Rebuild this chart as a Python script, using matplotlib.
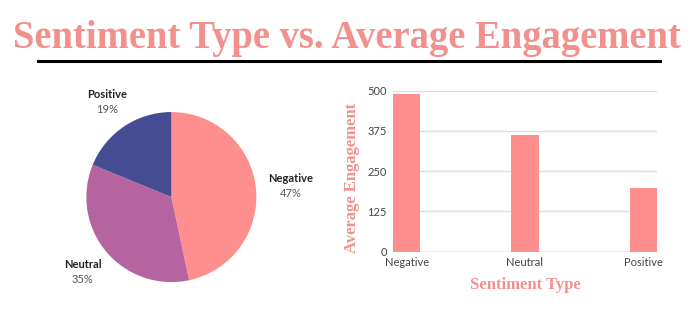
import numpy as np
import matplotlib
matplotlib.use("Agg")
import matplotlib.pyplot as plt

sentiments = ["Negative", "Neutral", "Positive"]
avg_engagement = [489, 362, 197]

pink = "#FF8E8E"
title_pink = "#F2908E"
pie_colors = ["#FF8E8E", "#B5649F", "#464C92"]

plt.rcParams["font.family"] = ["Lato", "DejaVu Sans"]

fig = plt.figure(figsize=(7, 3.22), dpi=100)

# title + rule underneath
fig.text(0.496, 0.88, "Sentiment Type vs. Average Engagement", ha="center", va="center",
         fontsize=27.8, fontweight="bold", family="Liberation Serif", color=title_pink)
fig.add_artist(plt.Line2D([38 / 700, 660 / 700], [1 - 61 / 322, 1 - 61 / 322],
                          color="black", linewidth=2.2))

# pie
ax_pie = fig.add_axes([0.093, 0.058, 0.3036, 0.66])
shares = np.array(avg_engagement) / sum(avg_engagement)
wedges, _ = ax_pie.pie(shares, colors=pie_colors, startangle=90, counterclock=False,
                       wedgeprops=dict(linewidth=0))
for w, name, s in zip(wedges, sentiments, shares):
    ang = np.deg2rad((w.theta1 + w.theta2) / 2)
    x, y = 1.36 * np.cos(ang), 1.36 * np.sin(ang)
    if name == "Negative":
        x += 0.05
    ax_pie.text(x, y + 0.08, name, ha="center", va="center", fontsize=8,
                fontweight="bold", color="#222222")
    ax_pie.text(x, y - 0.1, f"{round(s * 100):.0f}%", ha="center", va="center",
                fontsize=8, color="#555555")

# bars
ax = fig.add_axes([0.5614, 0.2183, 0.377, 0.5])
x = np.arange(len(sentiments))
ax.bar(x, avg_engagement, width=0.23, color=pink, zorder=3)
ax.set_xlim(-0.115, 2.115)
ax.set_ylim(0, 500)
ax.set_yticks([0, 125, 250, 375, 500])
ax.set_xticks(x, sentiments)
ax.grid(axis="y", color="#DDDDDD", linewidth=1, zorder=0)
for sp in ax.spines.values():
    sp.set_visible(False)
ax.axhline(0, color="#BBBBBB", linewidth=1, zorder=4)
ax.tick_params(length=0, labelsize=8, labelcolor="#444444")
ax.tick_params(axis="y", pad=4.5)
ax.tick_params(axis="x", pad=4)
ax.set_xlabel("Sentiment Type", family="Liberation Serif", fontweight="bold",
              fontsize=12, color=title_pink, labelpad=6)
ax.set_ylabel("Average Engagement", family="Liberation Serif", fontweight="bold",
              fontsize=12, color=title_pink, labelpad=8)
ax.yaxis.set_label_coords(-0.125, 0.46)

fig.savefig("out.png", dpi=100, facecolor="white")
